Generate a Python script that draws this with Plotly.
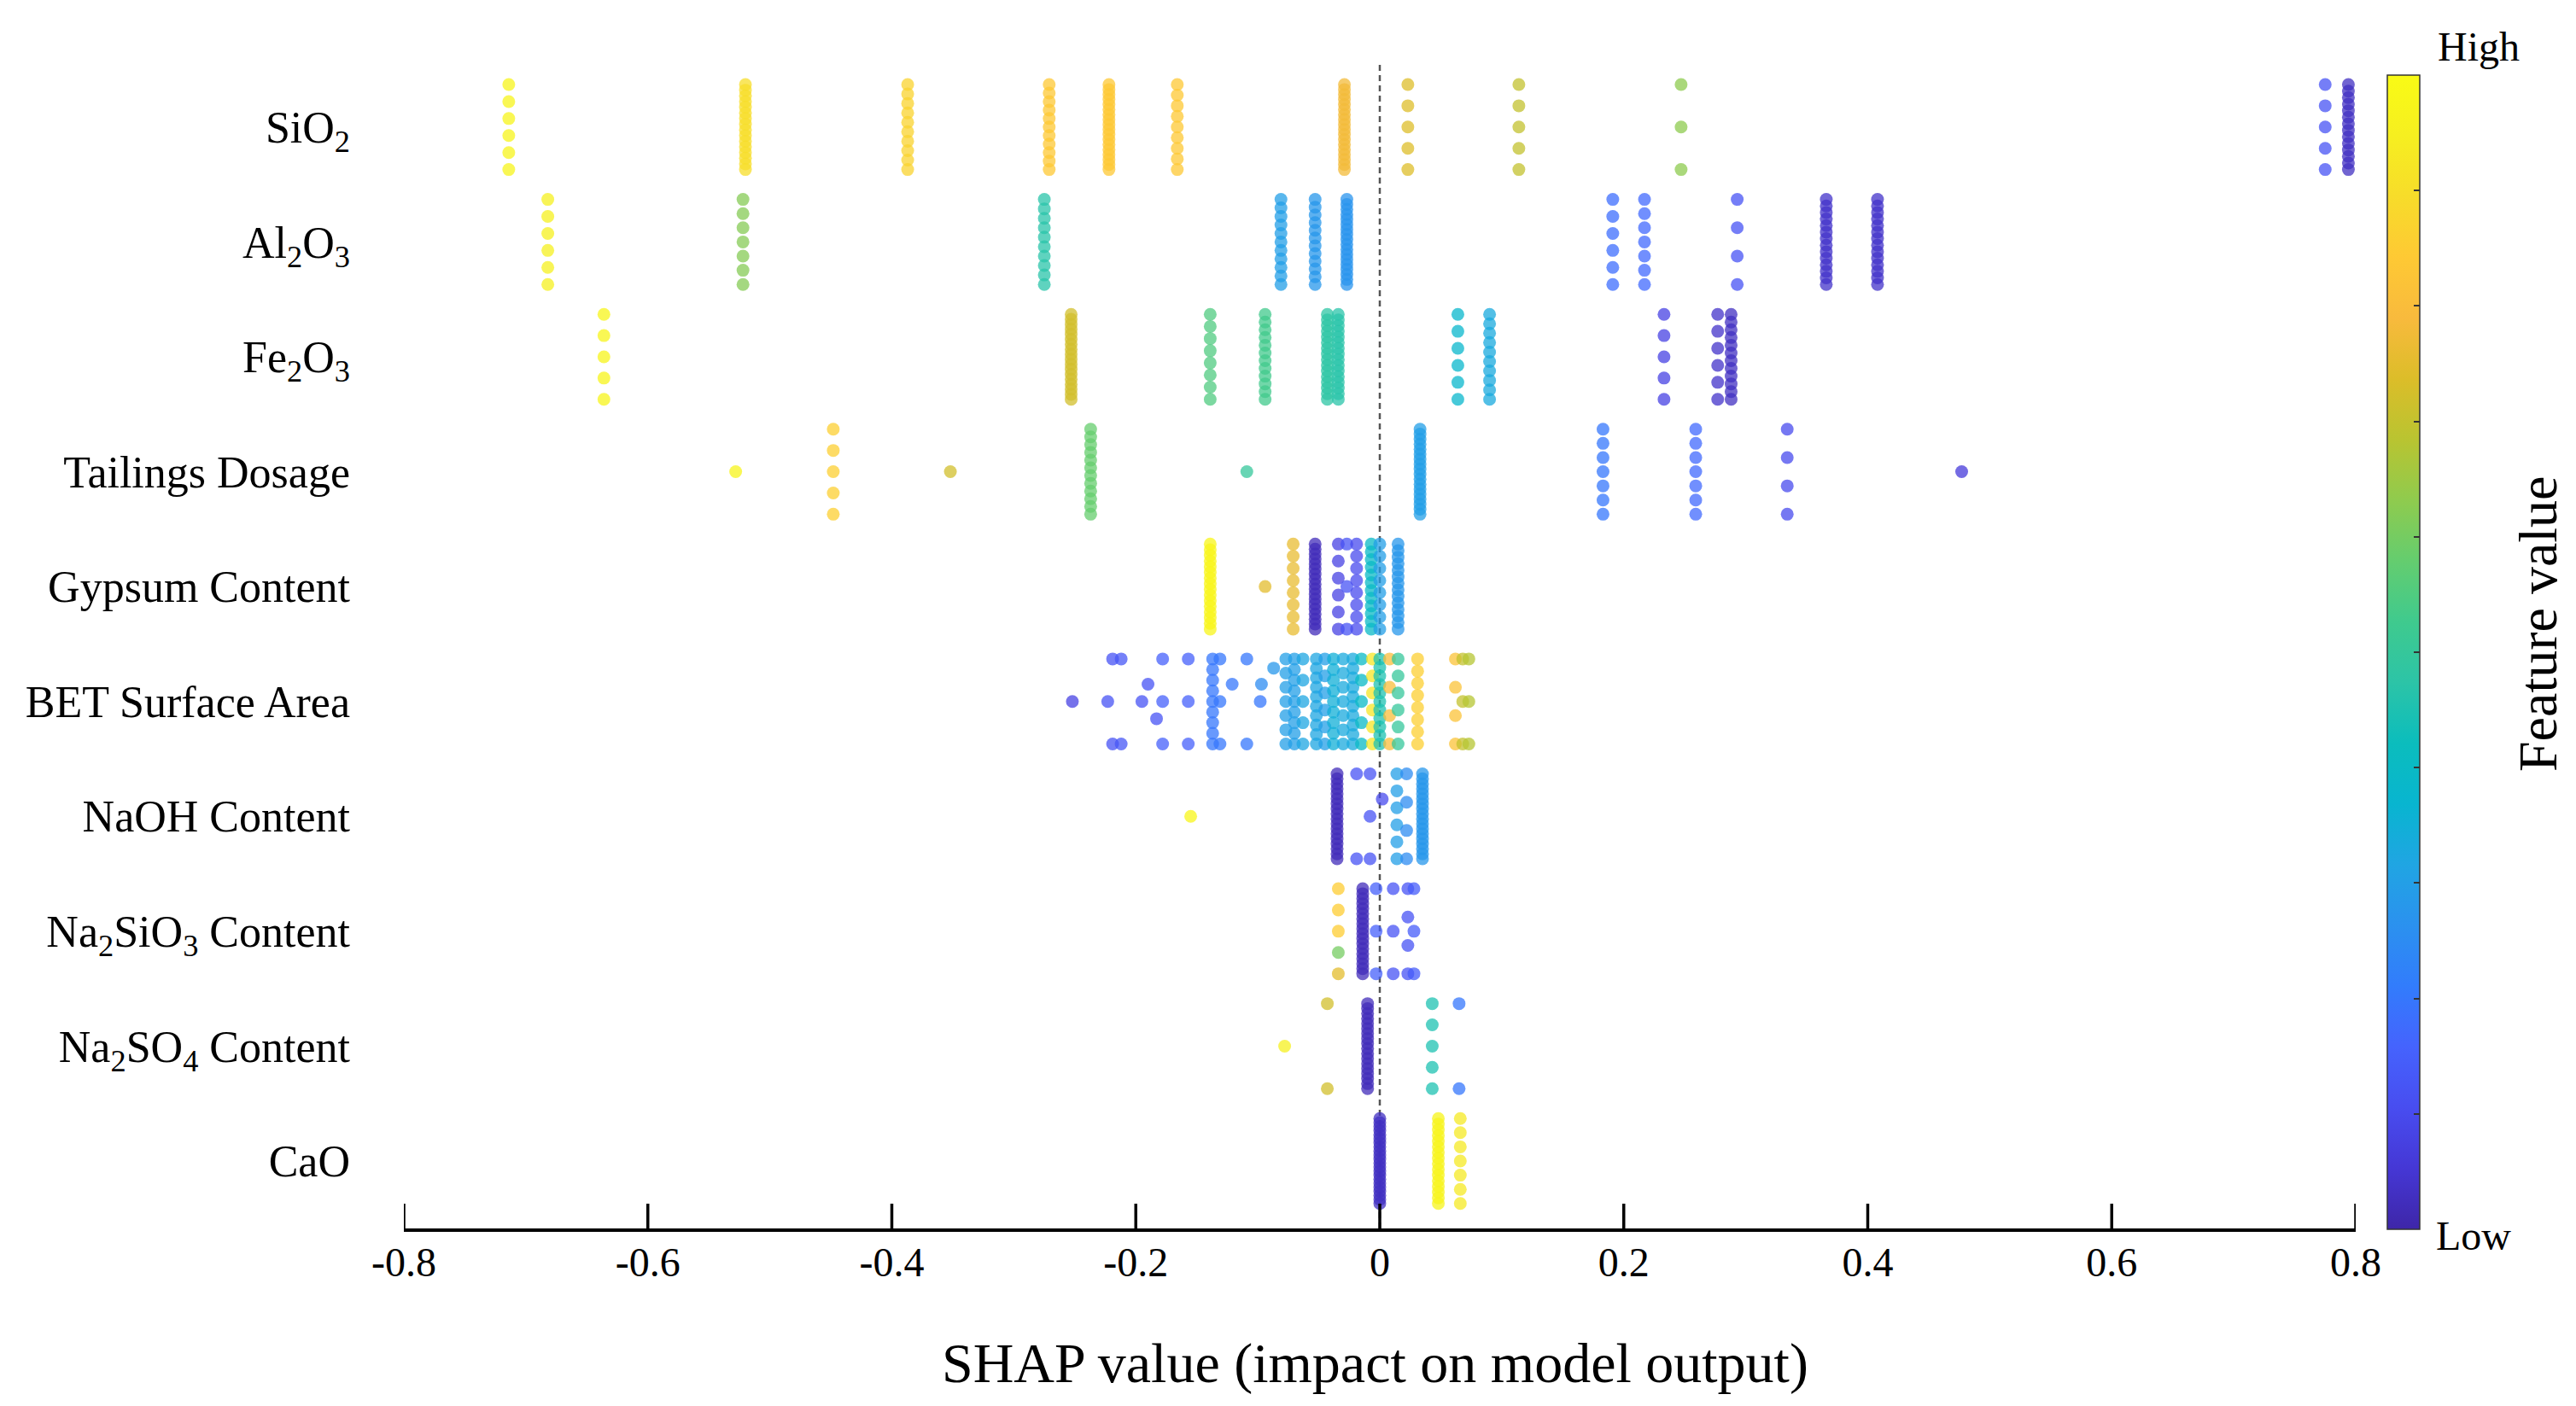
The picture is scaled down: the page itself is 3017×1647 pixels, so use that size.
import numpy as np
import plotly.graph_objects as go

# ---------------- data ----------------
features = ["SiO<sub>2</sub>", "Al<sub>2</sub>O<sub>3</sub>", "Fe<sub>2</sub>O<sub>3</sub>",
            "Tailings Dosage", "Gypsum Content", "BET Surface Area", "NaOH Content",
            "Na<sub>2</sub>SiO<sub>3</sub> Content", "Na<sub>2</sub>SO<sub>4</sub> Content", "CaO"]

x_ticks = [-0.8, -0.6, -0.4, -0.2, 0, 0.2, 0.4, 0.6, 0.8]
x_ticktext = ["-0.8", "-0.6", "-0.4", "-0.2", "0", "0.2", "0.4", "0.6", "0.8"]

# SHAP value of each group of samples, normalised feature value (0 low .. 1 high), count
sio2_shap  = [-0.714, -0.520, -0.387, -0.271, -0.222, -0.166, -0.029, 0.023, 0.114, 0.247, 0.775, 0.794]
sio2_feat  = [0.97, 0.90, 0.87, 0.84, 0.84, 0.84, 0.78, 0.74, 0.70, 0.63, 0.12, 0.03]
sio2_count = [6, 16, 10, 11, 18, 9, 18, 5, 5, 3, 5, 14]

al2o3_shap  = [-0.682, -0.522, -0.275, -0.081, -0.053, -0.027, 0.191, 0.217, 0.293, 0.366, 0.408]
al2o3_feat  = [0.95, 0.62, 0.47, 0.30, 0.28, 0.27, 0.18, 0.17, 0.12, 0.04, 0.04]
al2o3_count = [6, 7, 10, 11, 12, 18, 6, 7, 4, 14, 14]

fe2o3_shap  = [-0.636, -0.253, -0.139, -0.094, -0.043, -0.034, 0.064, 0.090, 0.233, 0.277, 0.288]
fe2o3_feat  = [0.97, 0.72, 0.55, 0.53, 0.48, 0.47, 0.38, 0.33, 0.08, 0.04, 0.03]
fe2o3_count = [5, 18, 8, 12, 16, 16, 6, 10, 5, 6, 12]

tail_shap  = [-0.528, -0.448, -0.352, -0.237, -0.109, 0.033, 0.183, 0.259, 0.334, 0.477]
tail_feat  = [0.97, 0.86, 0.72, 0.58, 0.50, 0.30, 0.20, 0.17, 0.10, 0.06]
tail_count = [1, 5, 1, 12, 1, 18, 7, 7, 4, 1]

gyp_shap  = [-0.139, -0.094, -0.071, -0.053, -0.034, -0.027, -0.019, -0.007, 0.000, 0.015]
gyp_feat  = [0.98, 0.75, 0.76, 0.02, 0.08, 0.12, 0.10, 0.40, 0.30, 0.28]
gyp_count = [16, 1, 8, 18, 6, 3, 8, 12, 8, 14]

bet_shap  = [-0.252, -0.223, -0.219, -0.212, -0.195, -0.190, -0.183, -0.178, -0.157, -0.137,
             -0.131, -0.121, -0.109, -0.098, -0.097, -0.087, -0.077, -0.070, -0.063, -0.052,
             -0.045, -0.038, -0.030, -0.022, -0.015, -0.006, 0.000, 0.008, 0.015, 0.031,
             0.062, 0.068, 0.073]
bet_feat  = [0.08, 0.12, 0.12, 0.13, 0.12, 0.12, 0.12, 0.15, 0.15, 0.20,
             0.20, 0.20, 0.20, 0.20, 0.25, 0.28, 0.30, 0.30, 0.32, 0.32,
             0.30, 0.35, 0.33, 0.33, 0.40, 0.92, 0.45, 0.80, 0.50, 0.86,
             0.82, 0.70, 0.68]
bet_count = [1, 1, 2, 2, 1, 1, 1, 3, 3, 9,
             3, 1, 2, 1, 1, 1, 7, 9, 5, 10,
             6, 9, 7, 10, 5, 6, 11, 4, 6, 8,
             4, 3, 3]

naoh_shap  = [-0.155, -0.035, -0.019, -0.008, 0.002, 0.014, 0.022, 0.035]
naoh_feat  = [0.98, 0.02, 0.12, 0.12, 0.10, 0.30, 0.25, 0.28]
naoh_count = [1, 18, 2, 3, 1, 6, 4, 18]

nasi_shap  = [-0.034, -0.034, -0.034, -0.014, -0.003, 0.011, 0.023, 0.028]
nasi_feat  = [0.85, 0.60, 0.75, 0.02, 0.15, 0.12, 0.12, 0.14]
nasi_count = [3, 1, 1, 18, 3, 3, 4, 3]

naso_shap  = [-0.078, -0.043, -0.010, 0.043, 0.065]
naso_feat  = [0.95, 0.72, 0.02, 0.45, 0.20]
naso_count = [1, 2, 18, 5, 2]

cao_shap  = [0.000, 0.048, 0.066]
cao_feat  = [0.03, 0.97, 0.93]
cao_count = [22, 16, 7]

rows = [
    (sio2_shap, sio2_feat, sio2_count),
    (al2o3_shap, al2o3_feat, al2o3_count),
    (fe2o3_shap, fe2o3_feat, fe2o3_count),
    (tail_shap, tail_feat, tail_count),
    (gyp_shap, gyp_feat, gyp_count),
    (bet_shap, bet_feat, bet_count),
    (naoh_shap, naoh_feat, naoh_count),
    (nasi_shap, nasi_feat, nasi_count),
    (naso_shap, naso_feat, naso_count),
    (cao_shap, cao_feat, cao_count),
]

# MATLAB parula colormap (sampled)
parula = [
    (0.2422, 0.1504, 0.6603), (0.2706, 0.2147, 0.8364), (0.2813, 0.3006, 0.9414),
    (0.2699, 0.3892, 0.9906), (0.1963, 0.4847, 0.9892), (0.1687, 0.5703, 0.9359),
    (0.1248, 0.6459, 0.8883), (0.0297, 0.7082, 0.8163), (0.0433, 0.7411, 0.7394),
    (0.1717, 0.7670, 0.6554), (0.2470, 0.7918, 0.5567), (0.3909, 0.8029, 0.4354),
    (0.5616, 0.7942, 0.3045), (0.7242, 0.7698, 0.1910), (0.8634, 0.7406, 0.1596),
    (0.9728, 0.7298, 0.2394), (0.9952, 0.7893, 0.2028), (0.9676, 0.8639, 0.1643),
    (0.9628, 0.9373, 0.1265), (0.9769, 0.9839, 0.0805),
]
colorscale = [[i / (len(parula) - 1), "rgb(%d,%d,%d)" % tuple(int(round(v * 255)) for v in c)]
              for i, c in enumerate(parula)]

# ---------------- geometry ----------------
W, Hfig = 3017, 1647
ml, mr, mt, mb = 473, 258, 60, 208
plot_w = W - ml - mr
plot_h = Hfig - mt - mb
y_range = [-0.587, 9.66]
px_x = plot_w / 1.6
px_row = plot_h / (y_range[1] - y_range[0])
band = 0.37
dot = 15

xs, ys, cs = [], [], []
n_rows = len(rows)
for ri, (shap, feat, count) in enumerate(rows):
    row_y = n_rows - 1 - ri
    groups = {}
    for s, f, n in zip(shap, feat, count):
        groups.setdefault(s, []).extend([f] * n)
    placed = []
    singles = []
    for s, fl in groups.items():
        if len(fl) == 1:
            singles.append((s, fl[0]))
            continue
        offs = np.linspace(band, -band, len(fl))
        for o, f in zip(offs, fl):
            placed.append((s, o))
            xs.append(s); ys.append(row_y + o); cs.append(f)
    slots = [0, 0.15, -0.15, 0.29, -0.29, 0.40, -0.40]
    for s, f in singles:
        chosen = slots[0]
        for o in slots:
            if all(((s - p) * px_x) ** 2 + ((o - q) * px_row) ** 2 >= dot ** 2 for p, q in placed):
                chosen = o
                break
        placed.append((s, chosen))
        xs.append(s); ys.append(row_y + chosen); cs.append(f)

FONT = "Liberation Serif"

fig = go.Figure()
fig.add_trace(go.Scatter(
    x=xs, y=ys, mode="markers",
    marker=dict(size=dot, color=cs, colorscale=colorscale, cmin=0, cmax=1,
                opacity=0.75, line=dict(width=0),
                colorbar=dict(
                    x=(2796 - ml) / plot_w, xanchor="left", xref="paper",
                    y=(Hfig - mb - 764) / plot_h, yanchor="middle", yref="paper",
                    len=1352, lenmode="pixels", thickness=38, thicknessmode="pixels",
                    xpad=0, ypad=0, outlinewidth=1.5, outlinecolor="#333333",
                    tickvals=[0.1, 0.2, 0.3, 0.4, 0.5, 0.6, 0.7, 0.8, 0.9],
                    ticks="inside", ticklen=7, tickwidth=1.5, tickcolor="#333333",
                    showticklabels=False)),
    hoverinfo="skip", showlegend=False))

# zero reference line
fig.add_shape(type="line", xref="x", yref="paper", x0=0, x1=0,
              y0=0, y1=(Hfig - mb - 73) / plot_h,
              line=dict(color="#555555", width=2.5, dash="7px,5px"), layer="below")

# inward tick marks on the x axis, one at each tick value
for tv in x_ticks:
    fig.add_shape(type="line", xref="x", yref="paper", x0=tv, x1=tv,
                  y0=0, y1=29 / plot_h, line=dict(color="black", width=3.5), layer="above")

ann = []
ann.append(dict(text="SHAP value (impact on model output)", xref="paper", yref="paper",
                x=(1610 - ml) / plot_w, y=(Hfig - mb - 1597) / plot_h,
                xanchor="center", yanchor="middle", showarrow=False,
                font=dict(family=FONT, size=66, color="black")))
ann.append(dict(text="Feature value", xref="paper", yref="paper", textangle=-90,
                x=(2973 - ml) / plot_w, y=(Hfig - mb - 731) / plot_h,
                xanchor="center", yanchor="middle", showarrow=False,
                font=dict(family=FONT, size=64, color="black")))
ann.append(dict(text="High", xref="paper", yref="paper",
                x=(2853 - ml) / plot_w, y=(Hfig - mb - 54) / plot_h,
                xanchor="left", yanchor="middle", showarrow=False,
                font=dict(family=FONT, size=48, color="black")))
ann.append(dict(text="Low", xref="paper", yref="paper",
                x=(2851 - ml) / plot_w, y=(Hfig - mb - 1447) / plot_h,
                xanchor="left", yanchor="middle", showarrow=False,
                font=dict(family=FONT, size=48, color="black")))

fig.update_layout(
    width=W, height=Hfig,
    margin=dict(l=ml, r=mr, t=mt, b=mb, autoexpand=False),
    paper_bgcolor="white", plot_bgcolor="white",
    annotations=ann,
    xaxis=dict(range=[-0.8, 0.8], tickvals=x_ticks, ticktext=x_ticktext,
               showgrid=False, zeroline=False, showline=True, linecolor="black",
               linewidth=4, ticks="", ticklabelstandoff=-6,
               tickfont=dict(family=FONT, size=48, color="black")),
    yaxis=dict(range=y_range, tickvals=list(range(n_rows)),
               ticktext=list(reversed(features)),
               showgrid=False, zeroline=False, showline=False, ticks="",
               ticklabelstandoff=62,
               tickfont=dict(family=FONT, size=52, color="black")),
)

fig.write_html("out.html")
